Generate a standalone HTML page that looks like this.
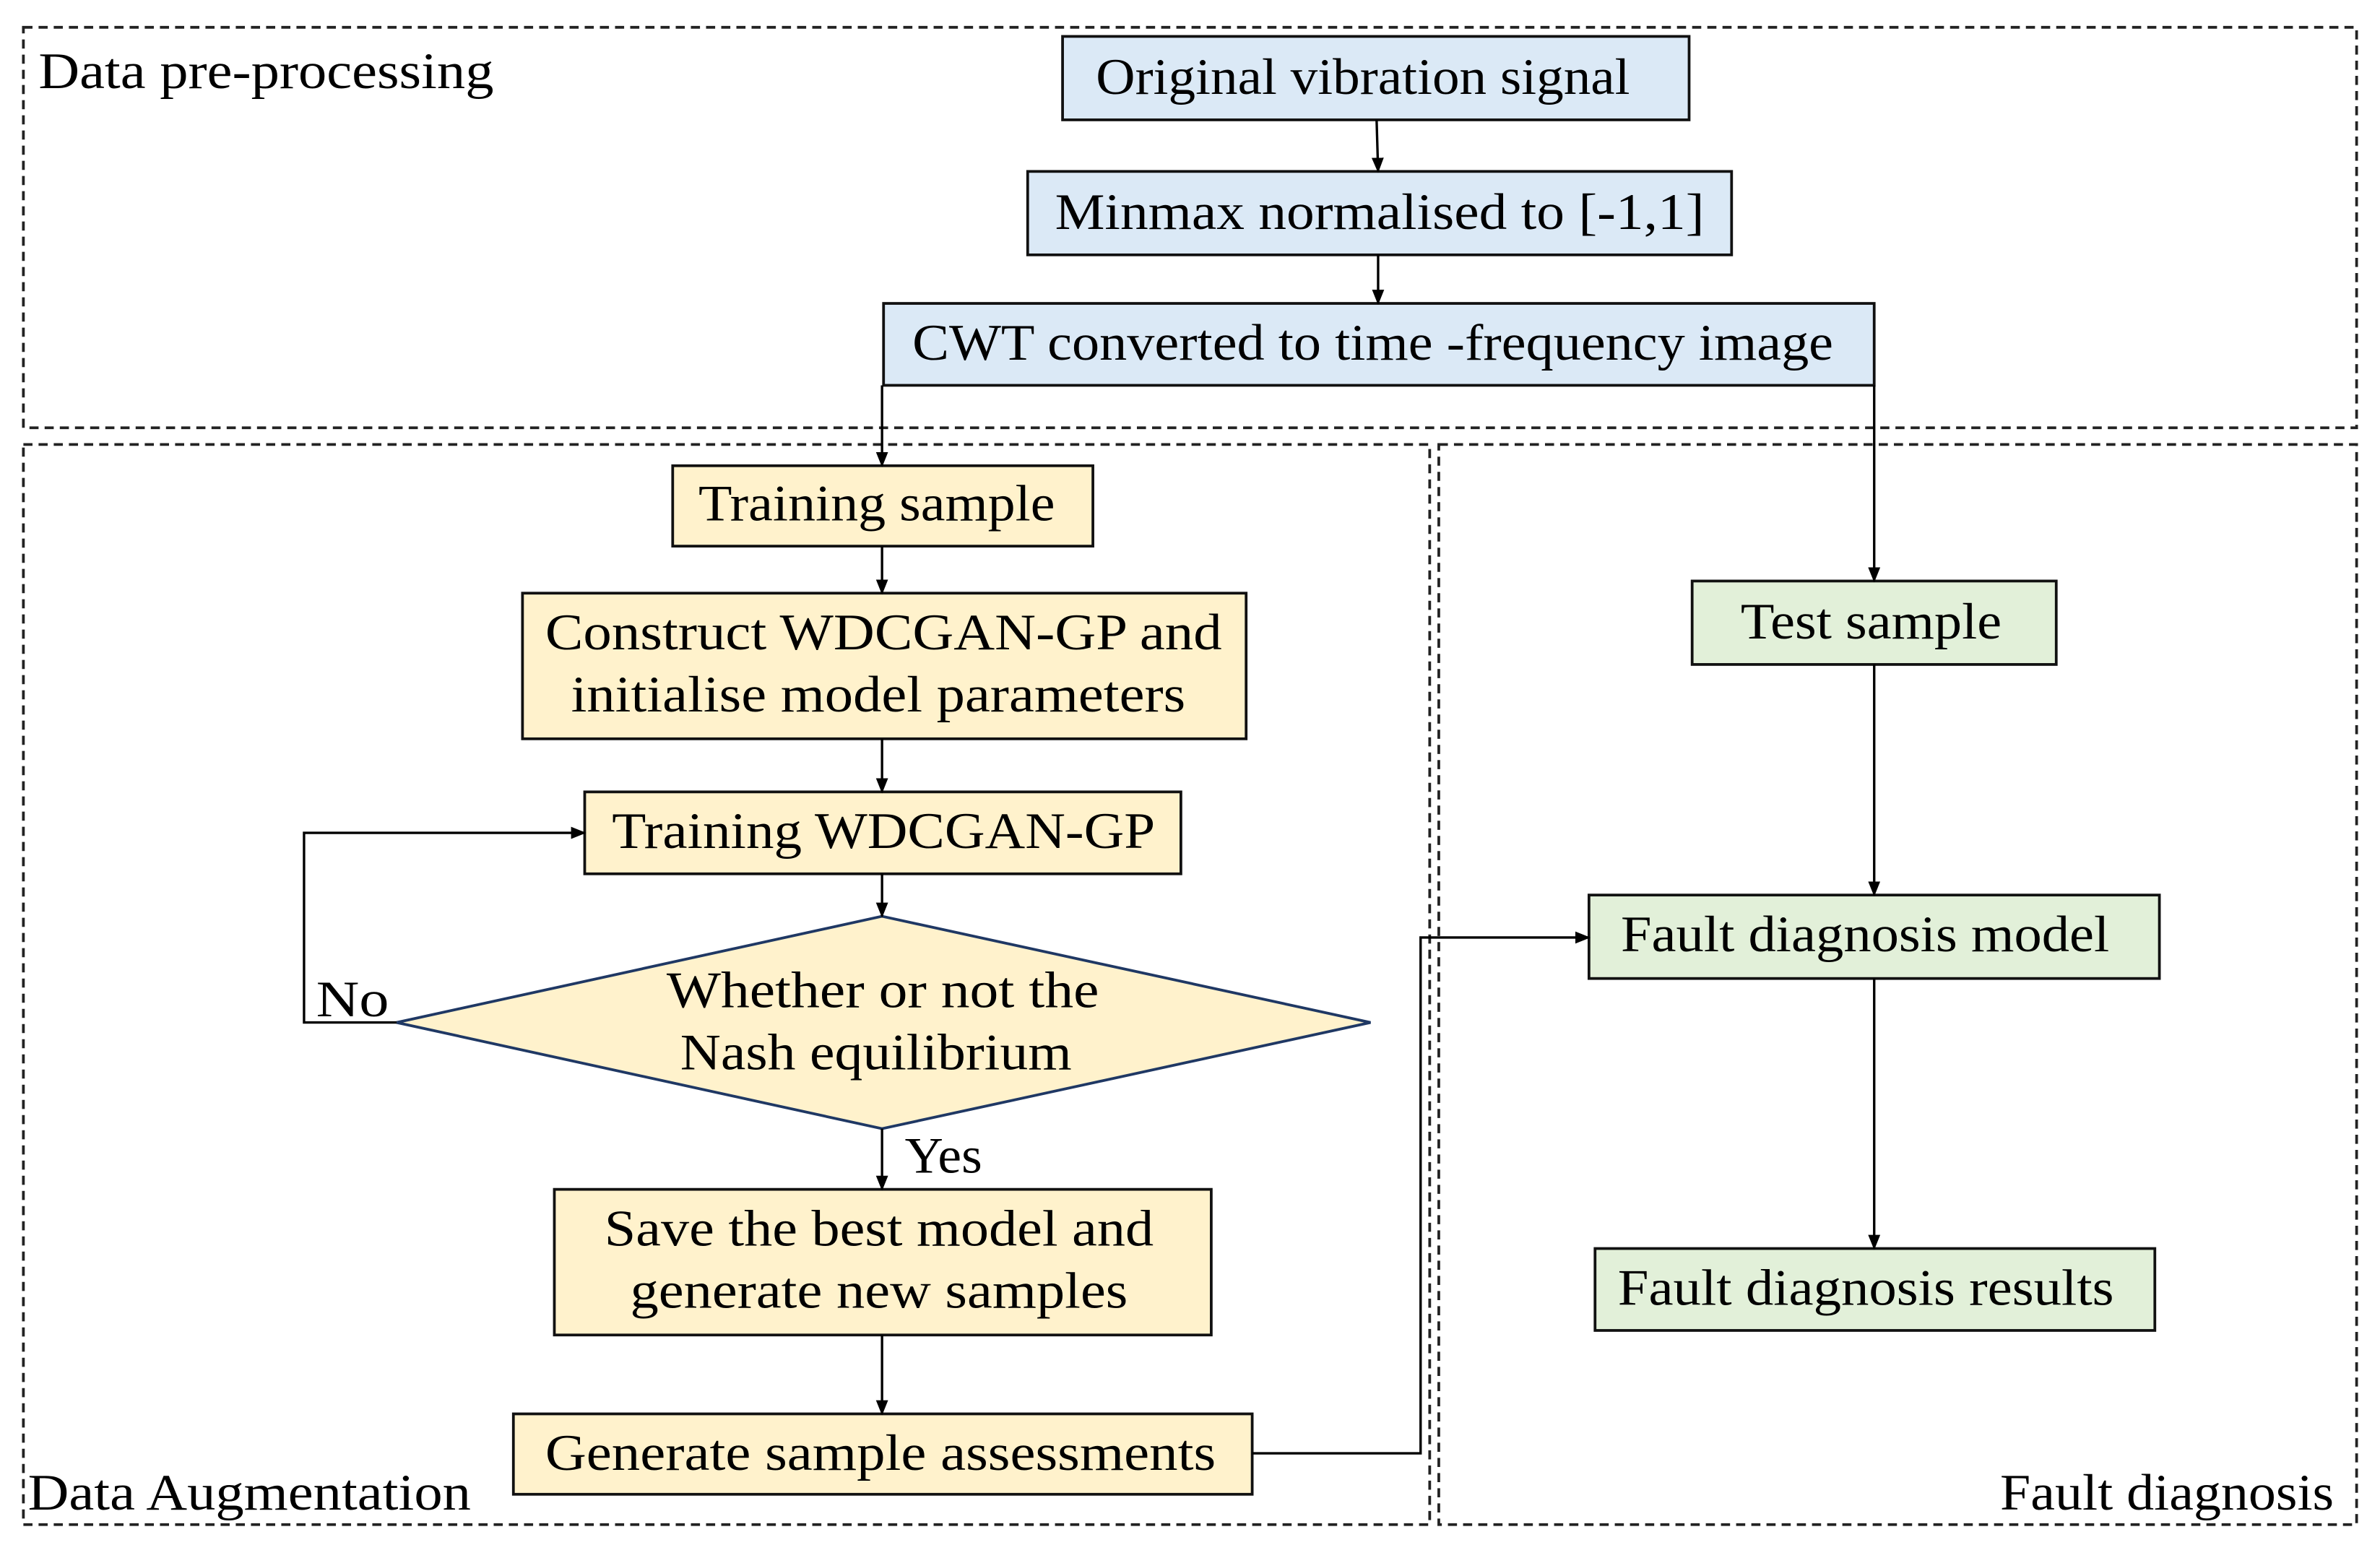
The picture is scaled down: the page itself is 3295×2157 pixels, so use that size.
<!DOCTYPE html>
<html><head><meta charset="utf-8"><style>
html,body{margin:0;padding:0;background:#fff;}
svg{display:block;}
text{font-family:"Liberation Serif",serif;font-size:34px;fill:#000;}
</style></head><body>
<svg width="3295" height="2157" viewBox="0 0 1568 1027" xmlns="http://www.w3.org/2000/svg">
<defs><marker id="a" markerWidth="10" markerHeight="10" refX="9" refY="5" orient="auto" markerUnits="userSpaceOnUse"><path d="M0,1 L10,5 L0,9 Z" fill="#000"/></marker></defs>
<g fill="none" stroke="#222" stroke-width="1.8" stroke-dasharray="6,4">
<rect x="15" y="18" width="1538" height="264"/>
<rect x="15" y="293" width="927" height="712"/>
<rect x="948" y="293" width="605" height="712"/>
</g>
<g stroke="#111" stroke-width="1.8">
<rect x="700" y="24" width="413" height="55" fill="#dbe9f6"/>
<rect x="677" y="113" width="464" height="55" fill="#dbe9f6"/>
<rect x="582" y="200" width="653" height="54" fill="#dbe9f6"/>
<rect x="443" y="307" width="277" height="53" fill="#fff2cc"/>
<rect x="344" y="391" width="477" height="96" fill="#fff2cc"/>
<rect x="385" y="522" width="393" height="54" fill="#fff2cc"/>
<rect x="365" y="784" width="433" height="96" fill="#fff2cc"/>
<rect x="338" y="932" width="487" height="53" fill="#fff2cc"/>
<rect x="1115" y="383" width="240" height="55" fill="#e2f0d9"/>
<rect x="1047" y="590" width="376" height="55" fill="#e2f0d9"/>
<rect x="1051" y="823" width="369" height="54" fill="#e2f0d9"/>
</g>
<polygon points="581,604 903,674 581,744 261,674" fill="#fff2cc" stroke="#1f3864" stroke-width="1.8"/>
<g stroke="#000" stroke-width="1.6" fill="none" marker-end="url(#a)">
<path d="M907,79 L908,113"/>
<path d="M908,168 L908,200"/>
<path d="M581,254 L581,307"/>
<path d="M1235,254 L1235,383"/>
<path d="M581,360 L581,391"/>
<path d="M581,487 L581,522"/>
<path d="M581,576 L581,604"/>
<path d="M581,744 L581,784"/>
<path d="M581,880 L581,932"/>
<path d="M825,958 L936,958 L936,618 L1047,618"/>
<path d="M1235,438 L1235,590"/>
<path d="M1235,645 L1235,823"/>
<path d="M261,674 L200,674 L200,549 L385,549"/>
</g>
<g lengthAdjust="spacingAndGlyphs">
<text x="25" y="58" textLength="300" lengthAdjust="spacingAndGlyphs">Data pre-processing</text>
<text x="18" y="995" textLength="292" lengthAdjust="spacingAndGlyphs">Data Augmentation</text>
<text x="1318" y="995" textLength="220" lengthAdjust="spacingAndGlyphs">Fault diagnosis</text>
<text x="208" y="670" textLength="48" lengthAdjust="spacingAndGlyphs">No</text>
<text x="596" y="773" textLength="51" lengthAdjust="spacingAndGlyphs">Yes</text>
<text x="722" y="62" textLength="352" lengthAdjust="spacingAndGlyphs">Original vibration signal</text>
<text x="695" y="151" textLength="428" lengthAdjust="spacingAndGlyphs">Minmax normalised  to [-1,1]</text>
<text x="601" y="237" textLength="607" lengthAdjust="spacingAndGlyphs">CWT converted to time -frequency image</text>
<text x="460" y="343" textLength="235" lengthAdjust="spacingAndGlyphs">Training sample</text>
<text x="359" y="428" textLength="446" lengthAdjust="spacingAndGlyphs">Construct WDCGAN-GP and</text>
<text x="376" y="469" textLength="405" lengthAdjust="spacingAndGlyphs">initialise  model parameters</text>
<text x="403" y="559" textLength="358" lengthAdjust="spacingAndGlyphs">Training WDCGAN-GP</text>
<text x="439" y="664" textLength="285" lengthAdjust="spacingAndGlyphs">Whether or not the</text>
<text x="448" y="705" textLength="258" lengthAdjust="spacingAndGlyphs">Nash equilibrium</text>
<text x="398" y="821" textLength="362" lengthAdjust="spacingAndGlyphs">Save the best model and</text>
<text x="415" y="862" textLength="328" lengthAdjust="spacingAndGlyphs">generate new samples</text>
<text x="359" y="969" textLength="442" lengthAdjust="spacingAndGlyphs">Generate sample assessments</text>
<text x="1147" y="421" textLength="172" lengthAdjust="spacingAndGlyphs">Test sample</text>
<text x="1068" y="627" textLength="322" lengthAdjust="spacingAndGlyphs">Fault diagnosis model</text>
<text x="1066" y="860" textLength="327" lengthAdjust="spacingAndGlyphs">Fault diagnosis results</text>
</g>
</svg>
</body></html>
